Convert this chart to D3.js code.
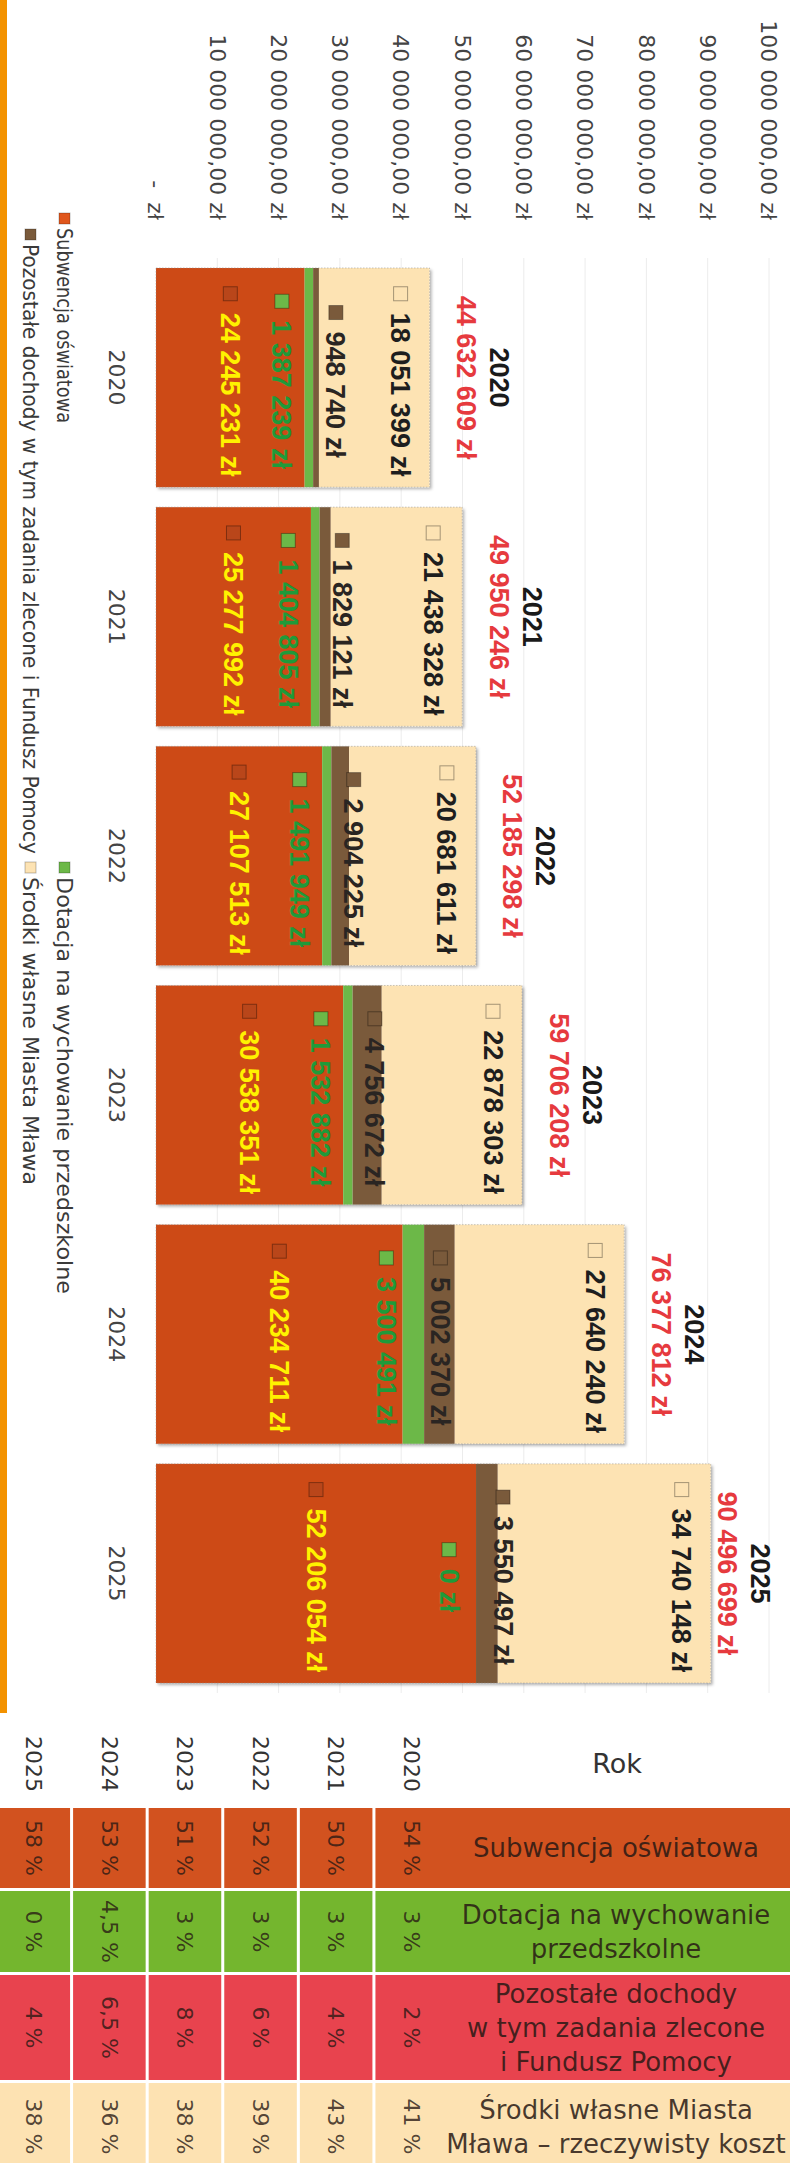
<!DOCTYPE html>
<html><head><meta charset="utf-8">
<script src="https://cdn.jsdelivr.net/npm/d3@7"></script>
<style>
html,body{margin:0;padding:0;background:#fff;}
svg{display:block;}
text{white-space:pre;}
</style></head>
<body>
<svg id="chart" width="790" height="2163"></svg>
<script>
// ---------- data ----------
const years = ["2020","2021","2022","2023","2024","2025"];
const subwencja = [24245231, 25277992, 27107513, 30538351, 40234711, 52206054];
const dotacja   = [1387239, 1404805, 1491949, 1532882, 3500491, 0];
const pozostale = [948740, 1829121, 2904225, 4756672, 5002370, 3550497];
const srodki    = [18051399, 21438328, 20681611, 22878303, 27640240, 34740148];
const totals    = [44632609, 49950246, 52185298, 59706208, 76377812, 90496699];
const tickValues = [0,10e6,20e6,30e6,40e6,50e6,60e6,70e6,80e6,90e6,100e6];
const seriesKeys = ["sub","dot","poz","sr"];
const seriesNames = ["Subwencja oświatowa","Dotacja na wychowanie przedszkolne",
  "Pozostałe dochody w tym zadania zlecone i Fundusz Pomocy","Środki własne Miasta Mława"];
// table (percent shares per year 2020..2025)
const tableYears = ["2025","2024","2023","2022","2021","2020"];
const pctSub = [54, 50, 52, 51, 53, 58];
const pctDot = [3, 3, 3, 3, 4.5, 0];
const pctPoz = [2, 4, 6, 8, 6.5, 4];
const pctSr  = [41, 43, 39, 38, 36, 38];
const tableLabels = [["Subwencja oświatowa"],["Dotacja na wychowanie","przedszkolne"],
  ["Pozostałe dochody","w tym zadania zlecone","i Fundusz Pomocy"],["Środki własne Miasta","Mława – rzeczywisty koszt"]];

// ---------- styles ----------
const colors = {sub:"#cd4a16", dot:"#6cb848", poz:"#7a5a3b", sr:"#fde3b3"};
const tableColors = ["#d2521f","#74b62e","#e8434e","#fde2b2"];
const labelColors = {sub:"#fff200", dot:"#1f9a3a", poz:"#2a2522", sr:"#1e1e1e"};
const FONT = "'DejaVu Sans', sans-serif";
const BOLD = "'Liberation Sans', Arial, sans-serif";

const loc = d3.formatLocale({decimal:",", thousands:" ", grouping:[3], currency:["",""]});
const fmtInt = loc.format(",d");
const fmtTick = v => v === 0 ? "-  zł" : loc.format(",.2f")(v) + " zł";
const fmtPct = v => loc.format(",")(v) + " %";

const svg = d3.select("#chart");
const defs = svg.append("defs");
const f = defs.append("filter").attr("id","sh").attr("x","-5%").attr("y","-5%").attr("width","115%").attr("height","115%");
f.append("feDropShadow").attr("dx",2).attr("dy",2).attr("stdDeviation",1.5).attr("flood-color","#000").attr("flood-opacity",0.3);

// orange side stripe
svg.append("rect").attr("x",0).attr("y",0).attr("width",7).attr("height",1713).attr("fill","#f39200");

// ---------- scales ----------
const x = d3.scaleLinear().domain([0, 100e6]).range([156, 769]);
const y = d3.scaleBand().domain(years).range([258, 1693]).paddingInner(0.0836).paddingOuter(0.0418);
const bw = y.bandwidth();

// gridlines
svg.append("g").selectAll("line").data(tickValues.filter(d=>d>0)).join("line")
  .attr("x1",d=>x(d)).attr("x2",d=>x(d)).attr("y1",258).attr("y2",1693)
  .attr("stroke","#ececec").attr("stroke-width",1);

// tick labels (rotated)
svg.append("g").selectAll("text").data(tickValues).join("text")
  .attr("transform",d=>`translate(${x(d)},220) rotate(90)`)
  .attr("text-anchor","end").attr("dy","0.35em")
  .attr("font-family",FONT).attr("font-size",22).attr("fill","#444")
  .text(fmtTick);

// category labels
svg.append("g").selectAll("text").data(years).join("text")
  .attr("transform",d=>`translate(117,${y(d)+bw/2}) rotate(90)`)
  .attr("text-anchor","middle").attr("dy","0.35em")
  .attr("font-family",FONT).attr("font-size",22).attr("fill","#444")
  .text(d=>d);

// stacked bars
const rows = years.map((yr,i)=>({year:yr, sub:subwencja[i], dot:dotacja[i], poz:pozostale[i], sr:srodki[i], total:totals[i]}));
const stack = d3.stack().keys(seriesKeys)(rows);
const barG = svg.append("g");
barG.selectAll("rect.base").data(rows).join("rect").attr("class","base")
  .attr("x",x(0)).attr("y",d=>y(d.year)).attr("width",d=>x(d.total)-x(0)).attr("height",bw)
  .attr("fill","#fff").attr("filter","url(#sh)");
stack.forEach(s=>{
  barG.append("g").selectAll("rect").data(s).join("rect")
    .attr("x",d=>x(d[0])).attr("width",d=>Math.max(0,x(d[1])-x(d[0])))
    .attr("y",d=>y(d.data.year)).attr("height",bw)
    .attr("fill",colors[s.key]);
});
barG.selectAll("rect.outline").data(rows).join("rect").attr("class","outline")
  .attr("x",x(0)).attr("y",d=>y(d.year)).attr("width",d=>x(d.total)-x(0)).attr("height",bw)
  .attr("fill","none").attr("stroke","#8a8a8a").attr("stroke-opacity",0.45).attr("stroke-dasharray","1.5,1.5");

// data labels with key squares
const lblG = svg.append("g");
function addLabel(cx, cy, txt, color, keyFill){
  const g = lblG.append("g").attr("transform",`translate(${cx},${cy}) rotate(90)`);
  const t = g.append("text").attr("dy","0.35em").attr("font-family",BOLD).attr("font-weight","bold")
    .attr("font-size",27).attr("fill",color).text(txt);
  const w = t.node().getComputedTextLength();
  const tot = 14 + 12 + w;
  t.attr("x",-tot/2 + 26);
  g.append("rect").attr("x",-tot/2).attr("y",-7).attr("width",14).attr("height",14)
    .attr("fill",keyFill).attr("stroke","rgba(0,0,0,0.35)").attr("stroke-width",1);
}
rows.forEach(d=>{
  const cy = y(d.year) + bw/2 + 4;
  const xs = x(d.sub/2);
  const xg = x(d.sub + d.dot/2) - 27;
  const xb = xg + 54;
  const xr = x(d.total) - 29;
  addLabel(xs, cy, fmtInt(d.sub)+" zł", labelColors.sub, "#b9461a");
  addLabel(xg, cy, fmtInt(d.dot)+" zł", labelColors.dot, colors.dot);
  addLabel(xb, cy, fmtInt(d.poz)+" zł", labelColors.poz, colors.poz);
  addLabel(xr, cy, fmtInt(d.sr)+" zł", labelColors.sr, colors.sr);
  const yx = Math.min(x(d.total) + 70, 760);
  const rx = yx - 33;
  const cyc = y(d.year) + bw/2;
  lblG.append("text").attr("transform",`translate(${yx},${cyc}) rotate(90)`)
    .attr("text-anchor","middle").attr("dy","0.35em").attr("font-family",BOLD).attr("font-weight","bold")
    .attr("font-size",27).attr("fill","#1a1a1a").text(d.year);
  lblG.append("text").attr("transform",`translate(${rx},${cyc}) rotate(90)`)
    .attr("text-anchor","middle").attr("dy","0.35em").attr("font-family",BOLD).attr("font-weight","bold")
    .attr("font-size",27).attr("fill","#e63a3e").text(fmtInt(d.total)+" zł");
});

// legend
const legendItems = [
  {key:"sub", row:64, start:213, len:195}, {key:"dot", row:64, start:862, len:417},
  {key:"poz", row:30, start:229, len:610}, {key:"sr", row:30, start:862, len:308}
];
const legG = svg.append("g");
legendItems.forEach(it=>{
  const g = legG.append("g").attr("transform",`translate(${it.row},${it.start}) rotate(90)`);
  g.append("rect").attr("x",0).attr("y",-6).attr("width",11).attr("height",11)
    .attr("fill",it.key==="sub" ? "#e0561c" : colors[it.key]).attr("stroke","rgba(0,0,0,0.25)");
  g.append("text").attr("x",15).attr("dy","0.35em").attr("font-family",FONT).attr("font-size",21)
    .attr("textLength",it.len).attr("lengthAdjust","spacingAndGlyphs")
    .attr("fill","#3a3a3a").text(seriesNames[seriesKeys.indexOf(it.key)]);
});

// ---------- table ----------
const tx = d3.scaleBand().domain(tableYears).range([-2.5, 448]).paddingInner(0.04);
const labelX0 = 448, labelX1 = 800;
const headerY = [1722, 1806];
const rowY = [[1808,1888],[1891,1972],[1975,2080],[2083,2170]];
const pctRows = [pctSub, pctDot, pctPoz, pctSr];
const tG = svg.append("g");
tG.selectAll("text.hy").data(tableYears).join("text").attr("class","hy")
  .attr("transform",d=>`translate(${tx(d)+tx.bandwidth()/2},${(headerY[0]+headerY[1])/2}) rotate(90)`)
  .attr("text-anchor","middle").attr("dy","0.35em").attr("font-family",FONT).attr("font-size",22).attr("fill","#333")
  .text(d=>d);
tG.append("text").attr("x",617).attr("y",(headerY[0]+headerY[1])/2).attr("dy","0.35em")
  .attr("text-anchor","middle").attr("font-family",FONT).attr("font-size",27).attr("fill","#333").text("Rok");
pctRows.forEach((vals,r)=>{
  const [y0,y1] = rowY[r];
  tG.append("rect").attr("x",labelX0).attr("y",y0).attr("width",labelX1-labelX0).attr("height",y1-y0).attr("fill",tableColors[r]);
  tableYears.forEach(yr=>{
    const v = vals[years.indexOf(yr)];
    tG.append("rect").attr("x",tx(yr)).attr("y",y0).attr("width",tx.bandwidth()).attr("height",y1-y0).attr("fill",tableColors[r]);
    tG.append("text").attr("transform",`translate(${tx(yr)+tx.bandwidth()/2},${(y0+y1)/2}) rotate(90)`)
      .attr("text-anchor","middle").attr("dy","0.35em").attr("font-family",FONT).attr("font-size",22)
      .attr("fill","rgba(40,25,20,0.8)").text(fmtPct(v));
  });
  const lines = tableLabels[r];
  const lh = 34;
  lines.forEach((ln,k)=>{
    tG.append("text").attr("x",616).attr("y",(y0+y1)/2 + (k-(lines.length-1)/2)*lh).attr("dy","0.35em")
      .attr("text-anchor","middle").attr("font-family",FONT).attr("font-size",26)
      .attr("fill","rgba(40,25,20,0.85)").text(ln);
  });
});
</script>
</body></html>
